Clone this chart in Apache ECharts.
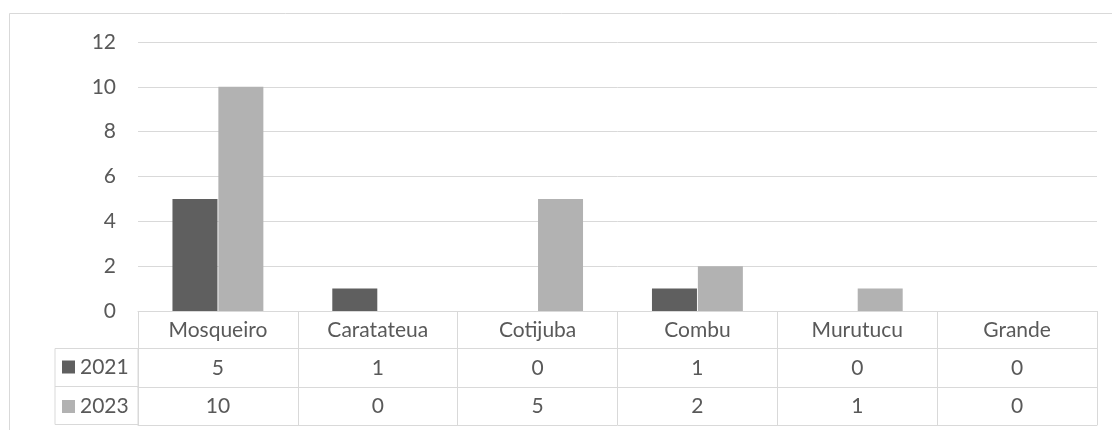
<!DOCTYPE html>
<html>
<head>
<meta charset="utf-8">
<script src="https://cdn.jsdelivr.net/npm/echarts@6/dist/echarts.min.js"></script>
<style>
html,body{margin:0;padding:0;background:#fff;}
#chart{width:1112px;height:430px;}
</style>
</head>
<body>
<div id="chart"></div>
<script>
var categories = ['Mosqueiro', 'Caratateua', 'Cotijuba', 'Combu', 'Murutucu', 'Grande'];
var seriesNames = ['2021', '2023'];
var values2021 = [5, 1, 0, 1, 0, 0];
var values2023 = [10, 0, 5, 2, 1, 0];
var yTicks = [0, 2, 4, 6, 8, 10, 12];

var FONT = 'Lato, "Open Sans", sans-serif';
var FS = 21;
var TXT = '#595959';
var LINE = '#d9d9d9';
var C1 = '#5f5f5f';
var C2 = '#b2b2b2';

var chart = echarts.init(document.getElementById('chart'), null, {renderer: 'canvas'});

function tableAxis(offset, labels, margin) {
  return {
    type: 'category',
    data: categories,
    gridIndex: 0,
    position: 'bottom',
    offset: offset,
    axisLine: {show: true, lineStyle: {color: LINE, width: 1}},
    axisTick: {show: false},
    splitLine: {show: false},
    axisLabel: {
      show: labels !== null,
      interval: 0,
      margin: margin,
      color: TXT,
      fontFamily: FONT,
      fontSize: FS,
      formatter: function (v, i) { return labels ? String(labels[i]) : ''; }
    }
  };
}

var option = {
  backgroundColor: '#fff',
  animation: false,
  textStyle: {fontFamily: FONT},
  graphic: [{
    type: 'rect',
    silent: true,
    shape: {x: 9.5, y: 13.5, width: 1200, height: 500},
    style: {fill: 'none', stroke: LINE, lineWidth: 1}
  }],
  legend: {
    data: seriesNames,
    orient: 'vertical',
    left: 62,
    top: 356.5,
    height: 80,
    padding: 0,
    itemWidth: 13,
    itemHeight: 13,
    itemGap: 18.5,
    icon: 'rect',
    textStyle: {color: TXT, fontFamily: FONT, fontSize: FS, lineHeight: 13},
    selectedMode: false
  },
  grid: [
    {left: 138, right: 15, top: 42, bottom: 119, containLabel: false},
    {left: 55, width: 83, top: 348.5, bottom: 5.5, show: true, borderColor: LINE, borderWidth: 1, backgroundColor: 'transparent'}
  ],
  xAxis: [
    {
      type: 'category',
      data: categories,
      gridIndex: 0,
      position: 'bottom',
      axisLine: {show: true, lineStyle: {color: LINE, width: 1}},
      axisTick: {show: true, interval: 0, length: 114, lineStyle: {color: LINE, width: 1}},
      splitLine: {show: false},
      axisLabel: {interval: 0, margin: 9, color: TXT, fontFamily: FONT, fontSize: FS}
    },
    tableAxis(37.5, values2021, 9),
    tableAxis(76, values2023, 9),
    tableAxis(114, null, 9),
    {
      type: 'value', gridIndex: 1, show: false, min: 0, max: 1
    }
  ],
  yAxis: [
    {
      type: 'value',
      gridIndex: 0,
      min: yTicks[0],
      max: yTicks[yTicks.length - 1],
      interval: 2,
      axisLine: {show: false},
      axisTick: {show: false},
      splitLine: {show: true, lineStyle: {color: LINE, width: 1}},
      axisLabel: {margin: 22, color: TXT, fontFamily: FONT, fontSize: FS}
    },
    {
      type: 'category',
      gridIndex: 1,
      data: ['', ''],
      axisLine: {show: false},
      axisTick: {show: false},
      axisLabel: {show: false},
      splitLine: {show: true, interval: 0, lineStyle: {color: LINE, width: 1}}
    }
  ],
  series: [
    {
      name: seriesNames[0],
      type: 'bar',
      xAxisIndex: 0,
      yAxisIndex: 0,
      data: values2021,
      barWidth: 45,
      barGap: '2%',
      itemStyle: {color: C1}
    },
    {
      name: seriesNames[1],
      type: 'bar',
      xAxisIndex: 0,
      yAxisIndex: 0,
      data: values2023,
      barWidth: 45,
      barGap: '2%',
      itemStyle: {color: C2}
    }
  ]
};
chart.setOption(option);
</script>
</body>
</html>
